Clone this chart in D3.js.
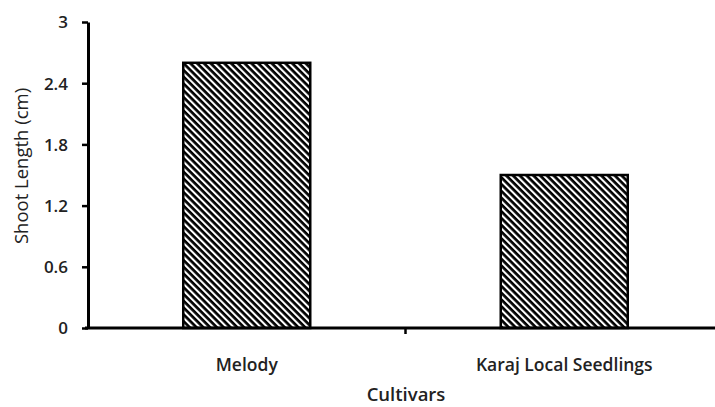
<!DOCTYPE html>
<html lang="en">
<head>
<meta charset="utf-8">
<title>Shoot length</title>
<script src="https://d3js.org/d3.v7.min.js"></script>
<style>
  body { margin: 0; background: #fff; }
  text { font-family: "Open Sans", "DejaVu Sans", sans-serif; fill: #222; }
</style>
</head>
<body>
<div id="vis"></div>
<script>
  // chart values
  var cultivars = ["Melody", "Karaj Local Seedlings"];
  var shootLength = [2.6, 1.5];
  var yTicks = [0, 0.6, 1.2, 1.8, 2.4, 3];

  var width = 715, height = 407;
  var margin = { left: 88, right: -8, top: 22, bottom: 79 };

  var svg = d3.select("#vis").append("svg")
    .attr("width", width)
    .attr("height", height);

  // diagonal hatch, top-left to bottom-right
  var step = 4.8;
  var defs = svg.append("defs");
  var pat = defs.append("pattern")
    .attr("id", "hatch")
    .attr("patternUnits", "userSpaceOnUse")
    .attr("width", step)
    .attr("height", step)
    .attr("patternTransform", "rotate(45)");
  pat.append("rect").attr("width", step).attr("height", step).attr("fill", "#fff");
  pat.append("rect").attr("width", step).attr("height", 2.7).attr("fill", "#000");

  var x = d3.scaleBand()
    .domain(cultivars)
    .range([margin.left, width - margin.right])
    .paddingInner(0.6)
    .paddingOuter(0.3);

  var y = d3.scaleLinear()
    .domain([0, 3])
    .range([height - margin.bottom, margin.top]);

  var data = cultivars.map(function(c, i) { return { name: c, val: shootLength[i] }; });

  // bars
  svg.selectAll(".bar")
    .data(data)
    .enter().append("rect")
    .attr("class", "bar")
    .attr("x", function(d) { return x(d.name); })
    .attr("y", function(d) { return y(d.val); })
    .attr("width", x.bandwidth())
    .attr("height", function(d) { return y(0) - y(d.val); })
    .attr("fill", "url(#hatch)")
    .attr("stroke", "#000")
    .attr("stroke-width", 2.5);

  // y axis
  var yAxis = svg.append("g")
    .attr("transform", "translate(" + margin.left + ",0)")
    .call(d3.axisLeft(y).tickValues(yTicks).tickSize(6).tickSizeOuter(0)
      .tickFormat(function(d) { return d; }));
  yAxis.select(".domain").attr("stroke", "#000").attr("stroke-width", 3);
  yAxis.selectAll(".tick line").attr("stroke", "#000").attr("stroke-width", 2.5);
  yAxis.selectAll(".tick text")
    .attr("x", -20)
    .attr("dy", "0.35em")
    .style("font-size", "17px")
    .style("font-weight", "600");

  // x axis
  var xAxisY = y(0);
  var xg = svg.append("g").attr("class", "xaxis");
  xg.append("line")
    .attr("x1", margin.left - 3).attr("x2", width)
    .attr("y1", xAxisY).attr("y2", xAxisY)
    .attr("stroke", "#000").attr("stroke-width", 3);
  // divider tick between categories
  var mid = (x(cultivars[0]) + x.bandwidth() + x(cultivars[1])) / 2;
  xg.append("line")
    .attr("x1", mid).attr("x2", mid)
    .attr("y1", xAxisY).attr("y2", xAxisY + 6)
    .attr("stroke", "#000").attr("stroke-width", 2.5);
  xg.selectAll(".xlabel")
    .data(cultivars)
    .enter().append("text")
    .attr("class", "xlabel")
    .attr("x", function(d) { return x(d) + x.bandwidth() / 2; })
    .attr("y", 371)
    .attr("text-anchor", "middle")
    .style("font-size", "17.5px")
    .style("font-weight", "600")
    .text(function(d) { return d; });

  // axis titles
  svg.append("text")
    .attr("x", 406)
    .attr("y", 401)
    .attr("text-anchor", "middle")
    .style("font-size", "18.5px")
    .style("font-weight", "600")
    .text("Cultivars");

  svg.append("text")
    .attr("transform", "translate(28,166) rotate(-90)")
    .attr("text-anchor", "middle")
    .style("font-size", "18.5px")
    .text("Shoot Length (cm)");
</script>
</body>
</html>
